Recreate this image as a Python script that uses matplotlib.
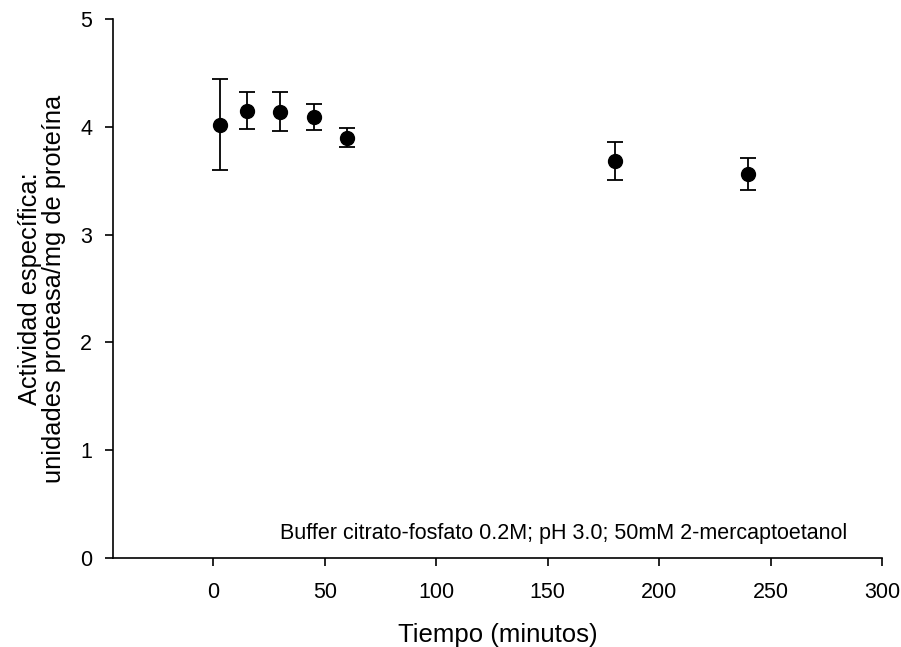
import matplotlib
matplotlib.use("Agg")
import matplotlib.pyplot as plt

plt.rcParams['font.family'] = ['Liberation Sans', 'DejaVu Sans']

# datos
tiempo = [3, 15, 30, 45, 60, 180, 240]
actividad = [4.02, 4.15, 4.14, 4.09, 3.90, 3.68, 3.56]
error = [0.42, 0.17, 0.18, 0.12, 0.085, 0.175, 0.15]

fig = plt.figure(figsize=(9.01, 6.47), dpi=100)
ax = fig.add_axes([0.1254, 0.1376, 0.8535, 0.833])

ax.errorbar(tiempo, actividad, yerr=error, fmt='o', color='black',
            markersize=10, capsize=6, elinewidth=1.3, capthick=1.3)

ax.set_xlim(-45, 300)
ax.set_ylim(0, 5)
ax.set_xticks([0, 50, 100, 150, 200, 250, 300])
ax.set_yticks([0, 1, 2, 3, 4, 5])

for s in ['top', 'right']:
    ax.spines[s].set_visible(False)
for s in ['left', 'bottom']:
    ax.spines[s].set_linewidth(1.2)
ax.tick_params(direction='out', length=6, width=1.2, labelsize=15.5)
ax.tick_params(axis='x', pad=11)
ax.tick_params(axis='y', pad=9)

ax.set_xlabel('Tiempo (minutos)', fontsize=18.5, labelpad=15)
ax.set_ylabel('Actividad específica:\nunidades proteasa/mg de proteína',
              fontsize=18.3, labelpad=10, linespacing=1.0)

ax.text(0.955, 0.045, 'Buffer citrato-fosfato 0.2M; pH 3.0; 50mM 2-mercaptoetanol',
        transform=ax.transAxes, ha='right', va='center', fontsize=15.5)

fig.savefig('out.png', dpi=100)
